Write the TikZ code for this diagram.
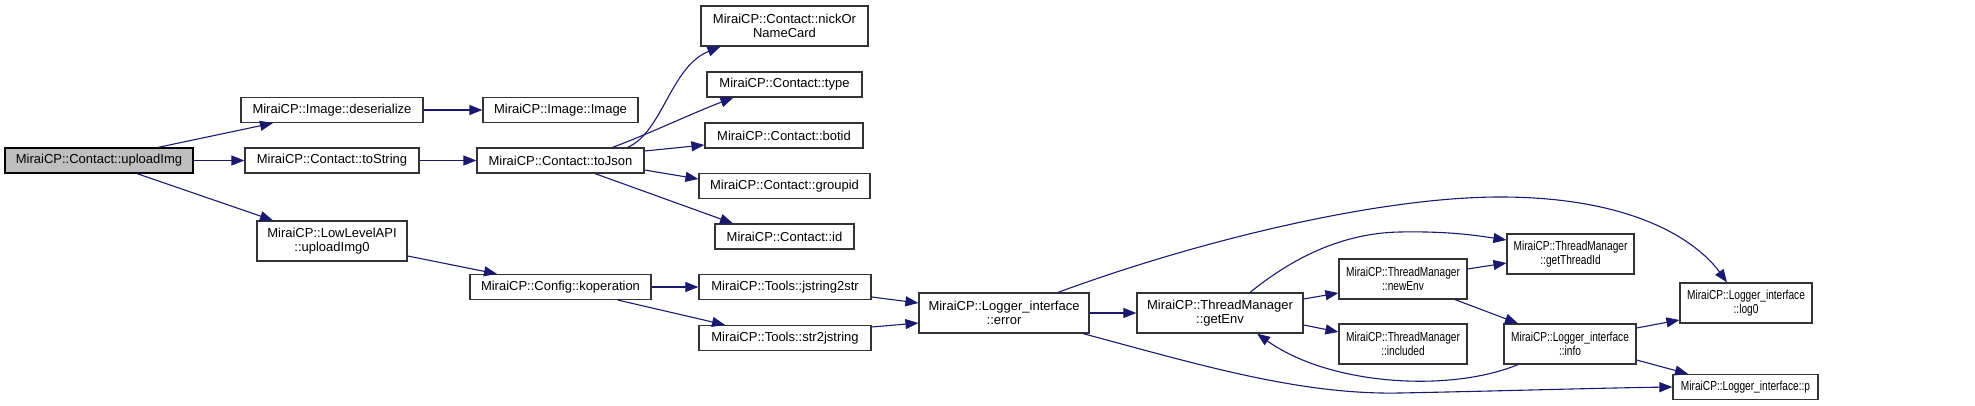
\documentclass[tikz,border=0pt]{standalone}
\usepackage{fontspec}
\setmainfont{Liberation Sans}
\newfontfamily\narrowfont[FakeStretch=0.78]{Liberation Sans}
\usetikzlibrary{arrows.meta,calc}

\begin{document}
\begin{tikzpicture}[
    x=1pt, y=-1pt,
    fnbox/.style={
      rectangle, draw=black!80, line width=1.2pt, fill=white,
      minimum height=25pt, inner sep=0pt, align=center,
      font=\fontsize{13}{14.5}\selectfont
    },
    twoline/.style={minimum height=40pt},
    narrow/.style={font=\narrowfont\fontsize{13}{14.5}\selectfont},
    rootbox/.style={fnbox, draw=black, fill=black!25},
    call/.style={-{Triangle[length=13pt,width=10pt]}, line width=1.1pt, draw={rgb,255:red,25;green,25;blue,112}},
]
\useasboundingbox (0,0) rectangle (1975,406);

% ===== COLUMN 0: root =====
\node[rootbox, minimum width=188pt] (root) at (99,160.5) {MiraiCP::Contact::uploadImg};

% ===== COLUMN 1 =====
\node[fnbox, minimum width=182pt] (deser) at (332,110) {MiraiCP::Image::deserialize};
\node[fnbox, minimum width=174pt] (tostr) at (332,160.5) {MiraiCP::Contact::toString};
\node[fnbox, twoline, minimum width=150pt] (lowup) at (332,241) {MiraiCP::LowLevelAPI\\::uploadImg0};

% ===== COLUMN 2 =====
\node[fnbox, minimum width=155pt] (image) at (560.5,110) {MiraiCP::Image::Image};
\node[fnbox, minimum width=167pt] (tojson) at (560.5,160.5) {MiraiCP::Contact::toJson};
\node[fnbox, minimum width=181pt] (koper) at (560.5,287) {MiraiCP::Config::koperation};

% ===== COLUMN 3 =====
\node[fnbox, twoline, minimum width=167pt] (nick) at (784.5,26) {MiraiCP::Contact::nickOr\\NameCard};
\node[fnbox, minimum width=155pt] (ctype) at (784.5,84.5) {MiraiCP::Contact::type};
\node[fnbox, minimum width=158pt] (botid) at (784,135.5) {MiraiCP::Contact::botid};
\node[fnbox, minimum width=171pt] (groupid) at (784.5,186) {MiraiCP::Contact::groupid};
\node[fnbox, minimum width=139pt] (cid) at (784.5,236.5) {MiraiCP::Contact::id};
\node[fnbox, minimum width=172pt] (js2s) at (785,287) {MiraiCP::Tools::jstring2str};
\node[fnbox, minimum width=172pt] (s2js) at (785,338) {MiraiCP::Tools::str2jstring};

% ===== COLUMNS 4-7: logger and threads =====
\node[fnbox, twoline, minimum width=170pt] (error) at (1004,313) {MiraiCP::Logger\_interface\\::error};
\node[fnbox, twoline, minimum width=166pt] (getenv) at (1220,313) {MiraiCP::ThreadManager\\::getEnv};
\node[fnbox, twoline, narrow, minimum width=128pt] (newenv) at (1403,279) {MiraiCP::ThreadManager\\::newEnv};
\node[fnbox, twoline, narrow, minimum width=128pt] (incl) at (1403,344) {MiraiCP::ThreadManager\\::included};
\node[fnbox, twoline, narrow, minimum width=127pt] (gettid) at (1570.5,254) {MiraiCP::ThreadManager\\::getThreadId};
\node[fnbox, twoline, narrow, minimum width=132pt] (info) at (1570,344) {MiraiCP::Logger\_interface\\::info};
\node[fnbox, twoline, narrow, minimum width=132pt] (logz) at (1746,303) {MiraiCP::Logger\_interface\\::log0};
\node[fnbox, narrow, minimum width=145pt] (lp) at (1745.5,387) {MiraiCP::Logger\_interface::p};

% ===== CALLS from the root =====
\draw[call] ($(root.north)+(59,0)$) -- ($(deser.south)+(-59,0)$);
\draw[call] (root.east) -- (tostr.west);
\draw[call] ($(root.south)+(38,0)$) -- ($(lowup.north)+(-59,0)$);

\draw[call] (deser.east) -- (image.west);
\draw[call] (tostr.east) -- (tojson.west);
\draw[call] ($(lowup.east)+(0,15)$) -- ($(koper.north)+(-63.5,0)$);

% ===== toJson =====
\draw[call] ($(tojson.north)+(67,0)$) .. controls +(35,-15) and +(-50,20) .. ($(nick.south)+(-64,0)$);
\draw[call] ($(tojson.north)+(52,0)$) .. controls +(40,-15) and +(-40,15) .. ($(ctype.south)+(-51,0)$);
\draw[call] ($(tojson.east)+(0,-9.5)$) -- ($(botid.west)+(0,9.5)$);
\draw[call] ($(tojson.east)+(0,9.5)$) -- ($(groupid.west)+(0,-7)$);
\draw[call] ($(tojson.south)+(34.5,0)$) -- ($(cid.north)+(-51.5,0)$);

% ===== koperation =====
\draw[call] (koper.east) -- (js2s.west);
\draw[call] ($(koper.south)+(57.5,0)$) -- ($(s2js.north)+(-60,0)$);
\draw[call] ($(js2s.east)+(0,10)$) -- ($(error.west)+(0,-10)$);
\draw[call] ($(s2js.east)+(0,-11)$) -- ($(error.west)+(0,10)$);

% ===== error =====
\draw[call] (error.east) -- (getenv.west);
\draw[call] ($(error.north)+(54,0)$) .. controls (1200,240) and (1380,197) .. (1500,197)
  .. controls (1640,197) and (1700,245) .. ($(logz.north)+(-19,0)$);
\draw[call] ($(error.south)+(79,0)$) .. controls (1200,365) and (1300,395) .. (1400,393)
  .. controls (1500,391) and (1600,388) .. (lp.west);

% ===== getEnv and friends =====
\draw[call] ($(getenv.north)+(30,0)$) .. controls (1290,260) and (1340,233) .. (1400,232)
  .. controls (1450,231) and (1480,236) .. ($(gettid.west)+(0,-14)$);
\draw[call] ($(getenv.east)+(0,-14)$) -- ($(newenv.west)+(0,14)$);
\draw[call] ($(getenv.east)+(0,12)$) -- ($(incl.west)+(0,-12)$);
\draw[call] ($(newenv.east)+(0,-10)$) -- ($(gettid.west)+(0,9)$);
\draw[call] ($(newenv.south)+(52,0)$) -- ($(info.north)+(-52,0)$);
\draw[call] ($(info.south)+(-52,0)$) .. controls +(-68,28) and +(73,52) .. ($(getenv.south)+(37,0)$);
\draw[call] ($(info.east)+(0,-16)$) -- ($(logz.west)+(0,17)$);
\draw[call] ($(info.east)+(0,16)$) -- ($(lp.north)+(-57.5,0)$);

\end{tikzpicture}
\end{document}
